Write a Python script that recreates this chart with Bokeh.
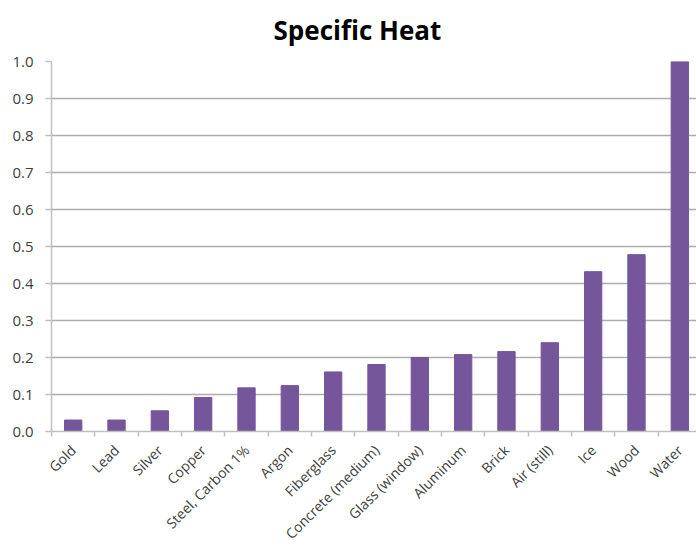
import math
from bokeh.plotting import figure
from bokeh.models import Range1d, FixedTicker, ColumnDataSource, CustomJSTickFormatter
from bokeh.embed import file_html
from bokeh.resources import INLINE

title_text = "Specific Heat"
materials = ["Gold", "Lead", "Silver", "Copper", "Steel, Carbon 1%", "Argon",
             "Fiberglass", "Concrete (medium)", "Glass (window)", "Aluminum",
             "Brick", "Air (still)", "Ice", "Wood", "Water"]
specific_heat = [0.031, 0.031, 0.056, 0.092, 0.118, 0.124, 0.161, 0.181,
                 0.200, 0.208, 0.216, 0.240, 0.432, 0.478, 1.000]
y_ticks = [0.0, 0.1, 0.2, 0.3, 0.4, 0.5, 0.6, 0.7, 0.8, 0.9, 1.0]

centers = [i + 0.5 for i in range(len(materials))]
bounds = list(range(len(materials) + 1))
src = ColumnDataSource(dict(x=centers, top=specific_heat))

p = figure(width=696, height=554, output_backend="svg", toolbar_location=None,
           x_range=Range1d(0, 14.885), y_range=Range1d(0, 1.0),
           min_border_left=51, min_border_right=0, min_border_top=61,
           min_border_bottom=123)

p.vbar(x="x", top="top", width=0.4, bottom=0, source=src,
       fill_color="#76569B", line_color="#76569B")

p.title.text = title_text
p.title.align = "left"
p.title.offset = 222
p.title.standoff = 23
p.title.vertical_align = "top"
p.title.text_font = "Open Sans"
p.title.text_font_size = "26px"
p.title.text_font_style = "bold"
p.title.text_color = "#000000"

p.outline_line_color = None
p.background_fill_color = "white"
p.border_fill_color = "white"

# y axis
p.yaxis.ticker = FixedTicker(ticks=y_ticks)
p.yaxis.formatter = CustomJSTickFormatter(code="return tick.toFixed(1);")
p.yaxis.axis_line_color = "#BFBFBF"
p.yaxis.axis_line_width = 1.5
p.yaxis.major_tick_line_color = "#BFBFBF"
p.yaxis.major_tick_line_width = 1.5
p.yaxis.major_tick_out = 6
p.yaxis.major_tick_in = 0
p.yaxis.minor_tick_line_color = None
p.yaxis.major_label_text_font = "Open Sans"
p.yaxis.major_label_text_font_size = "15px"
p.yaxis.major_label_text_color = "#404040"
p.yaxis.major_label_standoff = 12

# x axis
p.xaxis.ticker = FixedTicker(ticks=centers, minor_ticks=bounds)
p.xaxis.major_label_overrides = {c: m for c, m in zip(centers, materials)}
p.xaxis.major_label_orientation = math.pi / 4
p.xaxis.axis_line_color = "#BFBFBF"
p.xaxis.axis_line_width = 1.5
p.xaxis.major_tick_line_color = None
p.xaxis.minor_tick_line_color = "#BFBFBF"
p.xaxis.minor_tick_line_width = 1.5
p.xaxis.minor_tick_out = 5
p.xaxis.minor_tick_in = 0
p.xaxis.major_label_text_font = "Open Sans"
p.xaxis.major_label_text_font_size = "14px"
p.xaxis.major_label_text_color = "#404040"
p.xaxis.major_label_standoff = 10

p.xgrid.grid_line_color = None
p.ygrid.ticker = FixedTicker(ticks=y_ticks)
p.ygrid.grid_line_color = "#ADADAD"
p.ygrid.grid_line_width = 1.5

open("out.html", "w").write(file_html(p, INLINE))
